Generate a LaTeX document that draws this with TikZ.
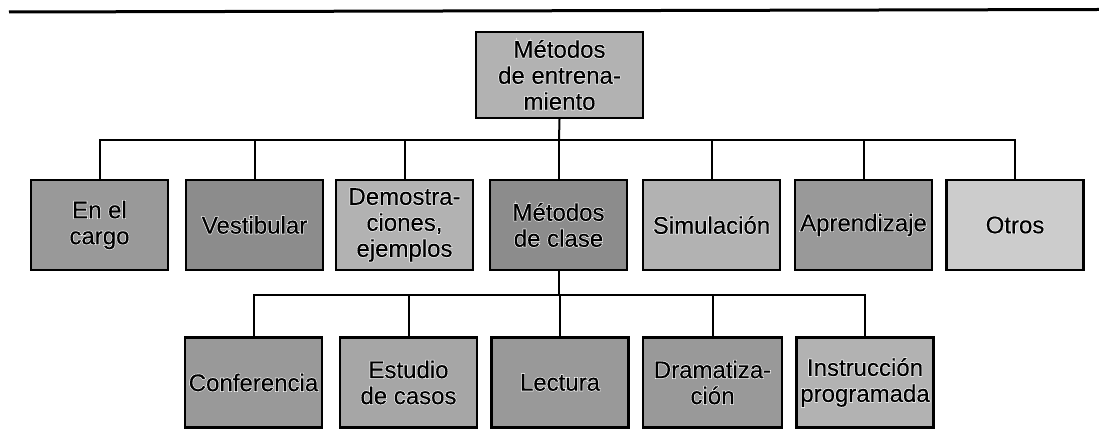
\documentclass[tikz,border=0pt]{standalone}
\usepackage{fontspec}
\setmainfont{Liberation Sans}
\begin{document}
\begin{tikzpicture}[x=1pt,y=-1pt,
  box/.style={draw=black,line width=2.2pt,fill=#1,minimum width=137pt,minimum height=90pt,
    inner sep=0pt,align=center,font=\fontsize{24}{26}\selectfont\addfontfeature{FakeBold=6},text=white},
  box/.default={black!35},
  txt/.style={inner sep=0pt,align=center,font=\fontsize{24}{26}\selectfont\addfontfeature{FakeBold=0.6},text=black},
  conn/.style={line width=2pt,draw=black}]
\useasboundingbox (0,0) rectangle (1099,435);
\fill[white] (0,0) rectangle (1099,435);
\draw[line width=3pt] (9,12) -- (1099,9.5);
% root
\node[box=black!30,minimum width=167pt,minimum height=86pt] (root) at (559.5,75) {Métodos\\de entrena-\\miento};
\node[txt] at (root) {Métodos\\de entrena-\\miento};
% level 1
\node[box=black!40] (c1) at (99.5,225) {En el\\cargo};
\node[txt] at (c1) {En el\\cargo};
\node[box=black!45] (c2) at (254.5,225) {Vestibular};
\node[txt] at (c2) {Vestibular};
\node[box=black!30] (c3) at (404.5,225) {Demostra-\\ciones,\\ejemplos};
\node[txt] at (c3) {Demostra-\\ciones,\\ejemplos};
\node[box=black!45] (c4) at (558.5,225) {Métodos\\de clase};
\node[txt] at (c4) {Métodos\\de clase};
\node[box=black!30] (c5) at (711.5,225) {Simulación};
\node[txt] at (c5) {Simulación};
\node[box=black!40] (c6) at (863.5,225) {Aprendizaje};
\node[txt] at (c6) {Aprendizaje};
\node[box=black!20] (c7) at (1015,225) {Otros};
\node[txt] at (c7) {Otros};
% level 2
\node[box=black!40] (d1) at (253.5,382.5) {Conferencia};
\node[txt] at (d1) {Conferencia};
\node[box=black!35] (d2) at (408.5,382.5) {Estudio\\de casos};
\node[txt] at (d2) {Estudio\\de casos};
\node[box=black!40] (d3) at (560,382.5) {Lectura};
\node[txt] at (d3) {Lectura};
\node[box=black!40,minimum width=139pt] (d4) at (712.5,382.5) {Dramatiza-\\ción};
\node[txt] at (d4) {Dramatiza-\\ción};
\node[box=black!30] (d5) at (865,382.5) {Instrucción\\programada};
\node[txt] at (d5) {Instrucción\\programada};
% connectors
\coordinate (j1) at (559,140);
\coordinate (j2) at (558.5,295);
\draw[conn] (root.south) -- (j1);
\foreach \c in {c1,c2,c3,c4,c5,c6,c7} \draw[conn] (j1) -| (\c.north);
\draw[conn] (c4.south) -- (j2);
\foreach \d in {d1,d2,d3,d4,d5} \draw[conn] (j2) -| (\d.north);
\end{tikzpicture}
\end{document}
